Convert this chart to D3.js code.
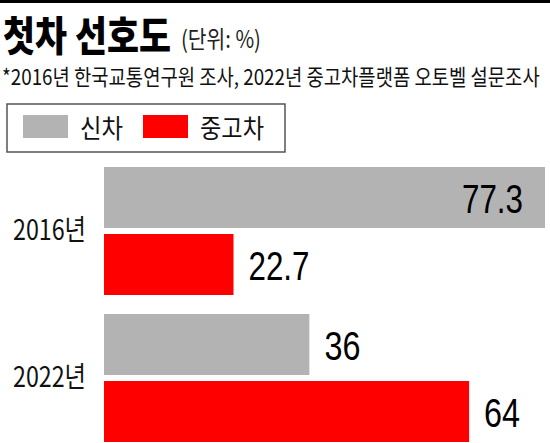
<!DOCTYPE html>
<html>
<head>
<meta charset="utf-8">
<script src="https://cdn.jsdelivr.net/npm/d3@7"></script>
<style>
  body { margin: 0; background: #fff; }
  svg { display: block; }
  .kr { font-family: "Noto Sans CJK KR", "Noto Sans", sans-serif; }
  .num { font-family: "Liberation Sans Narrow", "Liberation Sans", Arial, sans-serif; }
</style>
</head>
<body>
<div id="chart"></div>
<script>
// data
var years = ["2016년", "2022년"];
var series = ["신차", "중고차"];
var newCar = [77.3, 36];
var usedCar = [22.7, 64];
var colors = ["#b3b3b3", "#ff0000"];

var width = 550, height = 443;

var svg = d3.select("#chart").append("svg")
    .attr("width", width)
    .attr("height", height);

// squeeze a text horizontally so it is exactly w wide, starting at x
var fit = function(t, x, y, w) {
  var natural = t.node().getComputedTextLength();
  t.attr("transform", "translate(" + x + "," + y + ") scale(" + (w / natural) + ",1)");
  return t;
};

// top rule
svg.append("rect").attr("x", 0).attr("y", 0).attr("width", width).attr("height", 3).attr("fill", "#000");

// title
fit(svg.append("text").attr("class", "kr")
    .attr("font-size", 41).attr("font-weight", 900)
    .text("첫차 선호도"), 3, 51, 168);
fit(svg.append("text").attr("class", "kr")
    .attr("font-size", 24).attr("fill", "#222")
    .text("(단위: %)"), 181, 48, 80);
fit(svg.append("text").attr("class", "kr")
    .attr("font-size", 22).attr("fill", "#111")
    .text("*2016년 한국교통연구원 조사, 2022년 중고차플랫폼 오토벨 설문조사"), 2, 85, 538);

// legend
var legend = svg.append("g");
legend.append("rect")
    .attr("x", 7).attr("y", 104).attr("width", 278).attr("height", 48)
    .attr("fill", "none").attr("stroke", "#555").attr("stroke-width", 1.5);
var legX = [23, 143];
var legTextW = [43, 64];
series.forEach(function(s, i) {
  legend.append("rect")
      .attr("x", legX[i]).attr("y", 115).attr("width", 45).attr("height", 23)
      .attr("fill", colors[i]);
  fit(legend.append("text").attr("class", "kr")
      .attr("font-size", 26).attr("fill", "#111")
      .text(s), legX[i] + 57, 138, legTextW[i]);
});

// scales
var rows = years.map(function(y, i) {
  return { year: y, values: [newCar[i], usedCar[i]] };
});

var x = d3.scaleLinear()
    .domain([0, d3.max(newCar.concat(usedCar))])
    .range([104, 545]);

var y0 = d3.scaleBand()
    .domain(years)
    .range([167, 442])
    .paddingInner(19 / 147);

var y1 = d3.scaleBand()
    .domain(series)
    .range([0, y0.bandwidth()])
    .paddingInner(6 / 67);

// narrow look for the value labels
var labelLen = function(v) {
  var s = String(v);
  return s.replace(/\./g, "").length * 18 + (s.indexOf(".") >= 0 ? 7 : 0);
};

var groups = svg.selectAll(".grp")
    .data(rows)
    .enter().append("g")
    .attr("class", "grp")
    .attr("transform", function(d) { return "translate(0," + y0(d.year) + ")"; });

groups.append("text").attr("class", "kr")
    .attr("font-size", 28).attr("fill", "#111")
    .text(function(d) { return d.year; })
    .each(function() { fit(d3.select(this), 13, y0.bandwidth() / 2 + 9, 73); });

var bars = groups.selectAll(".bar")
    .data(function(d) { return d.values.map(function(v, i) { return { s: series[i], v: v, i: i }; }); })
    .enter().append("g").attr("class", "bar");

bars.append("rect")
    .attr("x", x(0))
    .attr("y", function(d) { return y1(d.s); })
    .attr("width", function(d) { return x(d.v) - x(0); })
    .attr("height", y1.bandwidth())
    .attr("fill", function(d) { return colors[d.i]; });

bars.append("text").attr("class", "num")
    .attr("font-size", 40).attr("fill", "#000")
    .text(function(d) { return d.v; })
    .each(function(d) {
      var w = labelLen(d.v);
      var lx = d.v > 70 ? x(d.v) - 22 - w : x(d.v) + 15;
      fit(d3.select(this), lx, y1(d.s) + y1.bandwidth() / 2 + 15, w);
    });
</script>
</body>
</html>
